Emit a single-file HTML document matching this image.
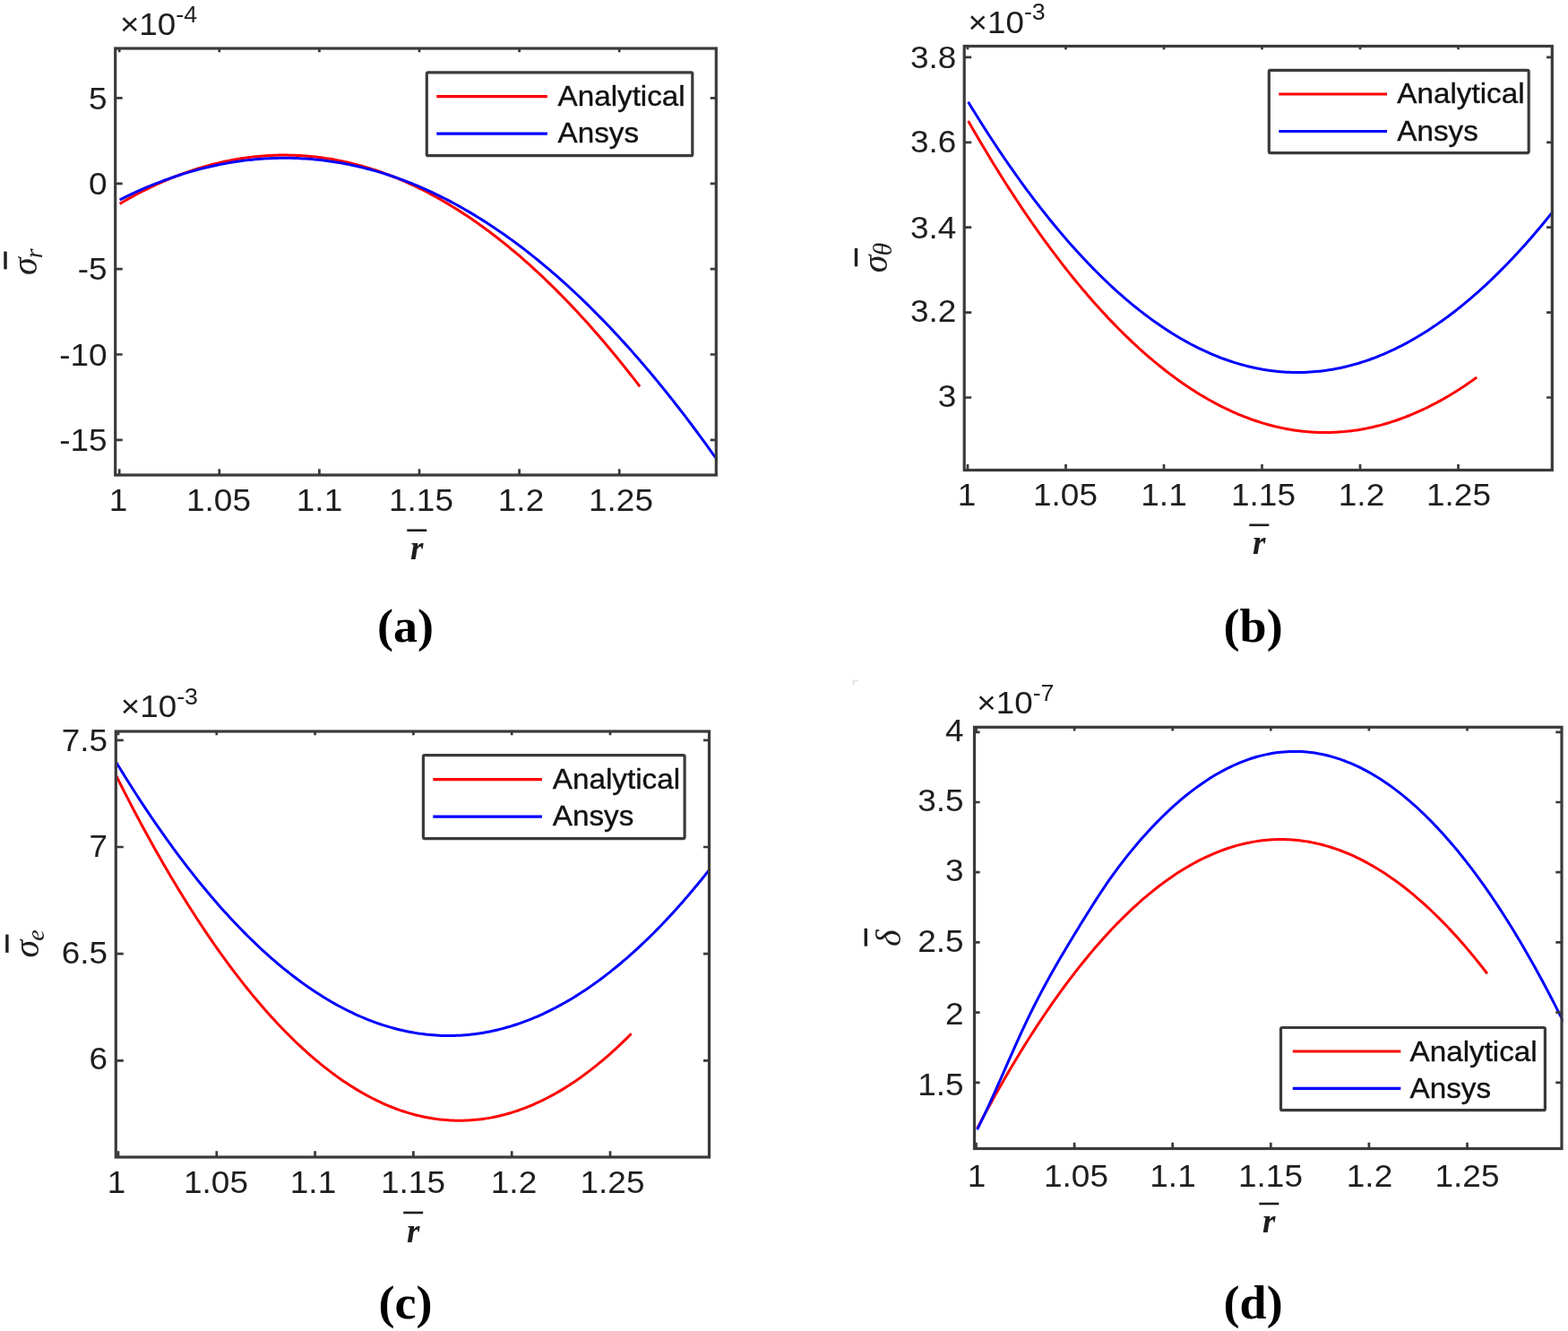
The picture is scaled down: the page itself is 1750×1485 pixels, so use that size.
<!DOCTYPE html>
<html><head><meta charset="utf-8"><title>Figure</title>
<style>html,body{margin:0;padding:0;background:#fff;} svg{display:block;}</style></head>
<body><svg xmlns="http://www.w3.org/2000/svg" width="1750" height="1485" viewBox="0 0 1750 1485" font-family="'Liberation Sans', Arial, sans-serif" font-size="35" fill="#1e1e1e">
<rect width="1750" height="1485" fill="#fff"/>
<g>
<path d="M952.5,764V759.5H957.5" stroke="#e4e4e4" stroke-width="2.2" fill="none"/>
<clipPath id="clipa"><rect x="128.7" y="52" width="672.0999999999999" height="478"/></clipPath>
<path d="M133.60,227.38 L136.52,225.68 L139.43,224.00 L142.35,222.34 L145.27,220.72 L148.19,219.12 L151.10,217.55 L154.02,216.01 L156.94,214.49 L159.85,213.00 L162.77,211.54 L165.69,210.10 L168.61,208.69 L171.52,207.31 L174.44,205.96 L177.36,204.63 L180.27,203.33 L183.19,202.06 L186.11,200.81 L189.02,199.59 L191.94,198.40 L194.86,197.24 L197.78,196.10 L200.69,194.99 L203.61,193.91 L206.53,192.86 L209.44,191.83 L212.36,190.83 L215.28,189.86 L218.20,188.91 L221.11,188.00 L224.03,187.10 L226.95,186.24 L229.86,185.41 L232.78,184.60 L235.70,183.82 L238.62,183.06 L241.53,182.33 L244.45,181.64 L247.37,180.96 L250.28,180.32 L253.20,179.70 L256.12,179.11 L259.03,178.55 L261.95,178.01 L264.87,177.51 L267.79,177.03 L270.70,176.57 L273.62,176.15 L276.54,175.75 L279.45,175.38 L282.37,175.04 L285.29,174.72 L288.21,174.44 L291.12,174.17 L294.04,173.94 L296.96,173.74 L299.87,173.56 L302.79,173.41 L305.71,173.29 L308.63,173.19 L311.54,173.12 L314.46,173.08 L317.38,173.07 L320.29,173.08 L323.21,173.13 L326.13,173.20 L329.04,173.29 L331.96,173.42 L334.88,173.57 L337.80,173.75 L340.71,173.96 L343.63,174.20 L346.55,174.46 L349.46,174.75 L352.38,175.07 L355.30,175.41 L358.22,175.79 L361.13,176.19 L364.05,176.62 L366.97,177.08 L369.88,177.56 L372.80,178.07 L375.72,178.61 L378.64,179.18 L381.55,179.78 L384.47,180.40 L387.39,181.05 L390.30,181.73 L393.22,182.44 L396.14,183.17 L399.05,183.93 L401.97,184.72 L404.89,185.54 L407.81,186.38 L410.72,187.26 L413.64,188.16 L416.56,189.09 L419.47,190.04 L422.39,191.03 L425.31,192.04 L428.23,193.08 L431.14,194.15 L434.06,195.24 L436.98,196.37 L439.89,197.52 L442.81,198.70 L445.73,199.90 L448.65,201.14 L451.56,202.40 L454.48,203.69 L457.40,205.01 L460.31,206.36 L463.23,207.73 L466.15,209.13 L469.06,210.56 L471.98,212.02 L474.90,213.51 L477.82,215.02 L480.73,216.57 L483.65,218.14 L486.57,219.73 L489.48,221.36 L492.40,223.02 L495.32,224.70 L498.24,226.41 L501.15,228.15 L504.07,229.91 L506.99,231.71 L509.90,233.53 L512.82,235.38 L515.74,237.26 L518.66,239.17 L521.57,241.10 L524.49,243.06 L527.41,245.05 L530.32,247.07 L533.24,249.12 L536.16,251.20 L539.07,253.30 L541.99,255.43 L544.91,257.59 L547.83,259.78 L550.74,261.99 L553.66,264.24 L556.58,266.51 L559.49,268.81 L562.41,271.14 L565.33,273.50 L568.25,275.88 L571.16,278.30 L574.08,280.74 L577.00,283.21 L579.91,285.70 L582.83,288.23 L585.75,290.78 L588.67,293.37 L591.58,295.98 L594.50,298.62 L597.42,301.29 L600.33,303.98 L603.25,306.70 L606.17,309.46 L609.08,312.24 L612.00,315.05 L614.92,317.88 L617.84,320.75 L620.75,323.64 L623.67,326.57 L626.59,329.52 L629.50,332.50 L632.42,335.50 L635.34,338.54 L638.26,341.60 L641.17,344.70 L644.09,347.82 L647.01,350.97 L649.92,354.14 L652.84,357.35 L655.76,360.58 L658.68,363.85 L661.59,367.14 L664.51,370.46 L667.43,373.81 L670.34,377.18 L673.26,380.59 L676.18,384.02 L679.09,387.48 L682.01,390.98 L684.93,394.49 L687.85,398.04 L690.76,401.62 L693.68,405.22 L696.60,408.86 L699.51,412.52 L702.43,416.21 L705.35,419.93 L708.27,423.68 L711.18,427.45 L714.10,431.26" fill="none" stroke="#ff0000" stroke-width="3" stroke-linejoin="round" stroke-linecap="butt" clip-path="url(#clipa)"/>
<path d="M133.60,222.98 L136.95,221.31 L140.31,219.66 L143.66,218.05 L147.02,216.46 L150.37,214.91 L153.72,213.38 L157.08,211.89 L160.43,210.42 L163.78,208.99 L167.14,207.59 L170.49,206.22 L173.85,204.87 L177.20,203.56 L180.55,202.28 L183.91,201.03 L187.26,199.81 L190.61,198.62 L193.97,197.46 L197.32,196.33 L200.68,195.24 L204.03,194.17 L207.38,193.13 L210.74,192.13 L214.09,191.15 L217.44,190.21 L220.80,189.29 L224.15,188.41 L227.51,187.56 L230.86,186.74 L234.21,185.95 L237.57,185.19 L240.92,184.46 L244.27,183.76 L247.63,183.10 L250.98,182.46 L254.34,181.86 L257.69,181.28 L261.04,180.74 L264.40,180.23 L267.75,179.75 L271.10,179.30 L274.46,178.88 L277.81,178.50 L281.17,178.14 L284.52,177.82 L287.87,177.52 L291.23,177.26 L294.58,177.03 L297.93,176.83 L301.29,176.66 L304.64,176.52 L308.00,176.42 L311.35,176.34 L314.70,176.30 L318.06,176.29 L321.41,176.31 L324.76,176.36 L328.12,176.44 L331.47,176.56 L334.83,176.70 L338.18,176.88 L341.53,177.09 L344.89,177.33 L348.24,177.60 L351.59,177.91 L354.95,178.24 L358.30,178.61 L361.66,179.01 L365.01,179.44 L368.36,179.90 L371.72,180.40 L375.07,180.92 L378.43,181.48 L381.78,182.07 L385.13,182.69 L388.49,183.35 L391.84,184.03 L395.19,184.75 L398.55,185.50 L401.90,186.28 L405.26,187.09 L408.61,187.94 L411.96,188.82 L415.32,189.73 L418.67,190.67 L422.02,191.64 L425.38,192.65 L428.73,193.68 L432.09,194.75 L435.44,195.86 L438.79,196.99 L442.15,198.16 L445.50,199.36 L448.85,200.59 L452.21,201.85 L455.56,203.15 L458.92,204.48 L462.27,205.84 L465.62,207.23 L468.98,208.65 L472.33,210.11 L475.68,211.60 L479.04,213.13 L482.39,214.68 L485.75,216.27 L489.10,217.89 L492.45,219.54 L495.81,221.23 L499.16,222.95 L502.51,224.70 L505.87,226.48 L509.22,228.30 L512.58,230.15 L515.93,232.03 L519.28,233.94 L522.64,235.89 L525.99,237.87 L529.34,239.88 L532.70,241.93 L536.05,244.01 L539.41,246.12 L542.76,248.26 L546.11,250.44 L549.47,252.65 L552.82,254.89 L556.17,257.17 L559.53,259.48 L562.88,261.82 L566.24,264.20 L569.59,266.61 L572.94,269.05 L576.30,271.52 L579.65,274.03 L583.01,276.57 L586.36,279.15 L589.71,281.75 L593.07,284.39 L596.42,287.07 L599.77,289.78 L603.13,292.52 L606.48,295.29 L609.84,298.10 L613.19,300.94 L616.54,303.81 L619.90,306.72 L623.25,309.66 L626.60,312.64 L629.96,315.65 L633.31,318.69 L636.67,321.76 L640.02,324.87 L643.37,328.01 L646.73,331.19 L650.08,334.40 L653.43,337.64 L656.79,340.92 L660.14,344.23 L663.50,347.57 L666.85,350.95 L670.20,354.36 L673.56,357.81 L676.91,361.29 L680.26,364.80 L683.62,368.35 L686.97,371.93 L690.33,375.54 L693.68,379.19 L697.03,382.88 L700.39,386.59 L703.74,390.34 L707.09,394.13 L710.45,397.95 L713.80,401.80 L717.16,405.69 L720.51,409.61 L723.86,413.56 L727.22,417.55 L730.57,421.58 L733.92,425.63 L737.28,429.73 L740.63,433.85 L743.99,438.01 L747.34,442.21 L750.69,446.44 L754.05,450.70 L757.40,455.00 L760.75,459.33 L764.11,463.69 L767.46,468.10 L770.82,472.53 L774.17,477.00 L777.52,481.50 L780.88,486.04 L784.23,490.62 L787.58,495.22 L790.94,499.87 L794.29,504.54 L797.65,509.25 L801.00,514.00" fill="none" stroke="#0000ff" stroke-width="3" stroke-linejoin="round" stroke-linecap="butt" clip-path="url(#clipa)"/>
<path d="M133.20,530V523.3M133.20,54V58.3M244.80,530V523.3M244.80,54V58.3M356.40,530V523.3M356.40,54V58.3M468.00,530V523.3M468.00,54V58.3M579.60,530V523.3M579.60,54V58.3M691.20,530V523.3M691.20,54V58.3M128.7,109.45H136.7M799.3,109.45H792.6999999999999M128.7,204.80H136.7M799.3,204.80H792.6999999999999M128.7,300.15H136.7M799.3,300.15H792.6999999999999M128.7,395.50H136.7M799.3,395.50H792.6999999999999M128.7,490.85H136.7M799.3,490.85H792.6999999999999" stroke="#3a3a3a" stroke-width="2.72" fill="none"/>
<rect x="128.7" y="54" width="670.5999999999999" height="476" fill="none" stroke="#3a3a3a" stroke-width="3.2"/>
<text transform="translate(132.00,569.50) scale(1.055,1)" text-anchor="middle">1</text>
<text transform="translate(244.00,569.50) scale(1.055,1)" text-anchor="middle">1.05</text>
<text transform="translate(356.50,569.50) scale(1.055,1)" text-anchor="middle">1.1</text>
<text transform="translate(470.00,569.50) scale(1.055,1)" text-anchor="middle">1.15</text>
<text transform="translate(581.50,569.50) scale(1.055,1)" text-anchor="middle">1.2</text>
<text transform="translate(693.00,569.50) scale(1.055,1)" text-anchor="middle">1.25</text>
<text transform="translate(119.50,121.60) scale(1.055,1)" text-anchor="end">5</text>
<text transform="translate(119.50,216.95) scale(1.055,1)" text-anchor="end">0</text>
<text transform="translate(119.50,312.29) scale(1.055,1)" text-anchor="end">-5</text>
<text transform="translate(119.50,407.64) scale(1.055,1)" text-anchor="end">-10</text>
<text transform="translate(119.50,503.00) scale(1.055,1)" text-anchor="end">-15</text>
<text transform="translate(133.90,39.20) scale(1.05,1)">×10<tspan dy="-14.4" font-size="25.5">-4</tspan></text>
<rect x="476.3" y="80.8" width="296.49999999999994" height="92.89999999999999" fill="#fff" stroke="#3a3a3a" stroke-width="3.2" rx="1.5"/>
<path d="M487.3,107.7H610.9" stroke="#ff0000" stroke-width="3.2"/>
<path d="M487.3,149.2H610.9" stroke="#0000ff" stroke-width="3.2"/>
<text transform="translate(622.50,118.10) scale(1.09,1)" font-size="30.5" fill="#111" stroke="#111" stroke-width="0.35">Analytical</text>
<text transform="translate(622.50,158.60) scale(1.09,1)" font-size="30.5" fill="#111" stroke="#111" stroke-width="0.35">Ansys</text>
<path d="M454.25,591.7H476.25" stroke="#1e1e1e" stroke-width="2.6"/>
<text x="465.25" y="623.5" text-anchor="middle" font-family="'Liberation Serif', 'Times New Roman', serif" font-style="italic" font-weight="bold" font-size="37">r</text>
<path d="M6,280.6V300.4" stroke="#1e1e1e" stroke-width="3.4"/><g transform="translate(40.5,307) rotate(-90)"><text x="0" y="0" font-family="'Liberation Serif', 'Times New Roman', serif" font-style="italic" font-size="40">σ<tspan dx="-1" dy="6" font-size="28">r</tspan></text></g>
<text transform="translate(452.45,716.00) scale(1.02,1)" text-anchor="middle" font-family="'Liberation Serif', 'Times New Roman', serif" font-weight="bold" font-size="53" fill="#000">(a)</text>
<clipPath id="clipb"><rect x="1076.2" y="49.5" width="657.5999999999999" height="475.0"/></clipPath>
<path d="M1080.60,134.93 L1083.45,139.92 L1086.30,144.88 L1089.16,149.79 L1092.01,154.67 L1094.86,159.52 L1097.71,164.33 L1100.57,169.10 L1103.42,173.83 L1106.27,178.53 L1109.12,183.19 L1111.97,187.82 L1114.83,192.41 L1117.68,196.96 L1120.53,201.48 L1123.38,205.96 L1126.24,210.40 L1129.09,214.81 L1131.94,219.18 L1134.79,223.51 L1137.65,227.81 L1140.50,232.07 L1143.35,236.30 L1146.20,240.49 L1149.05,244.64 L1151.91,248.76 L1154.76,252.84 L1157.61,256.88 L1160.46,260.89 L1163.32,264.86 L1166.17,268.79 L1169.02,272.69 L1171.87,276.56 L1174.72,280.38 L1177.58,284.17 L1180.43,287.93 L1183.28,291.64 L1186.13,295.33 L1188.99,298.97 L1191.84,302.58 L1194.69,306.15 L1197.54,309.69 L1200.39,313.19 L1203.25,316.66 L1206.10,320.09 L1208.95,323.48 L1211.80,326.83 L1214.66,330.15 L1217.51,333.44 L1220.36,336.69 L1223.21,339.90 L1226.07,343.07 L1228.92,346.21 L1231.77,349.32 L1234.62,352.39 L1237.47,355.42 L1240.33,358.41 L1243.18,361.37 L1246.03,364.30 L1248.88,367.19 L1251.74,370.04 L1254.59,372.86 L1257.44,375.64 L1260.29,378.38 L1263.14,381.09 L1266.00,383.76 L1268.85,386.40 L1271.70,389.00 L1274.55,391.56 L1277.41,394.09 L1280.26,396.58 L1283.11,399.04 L1285.96,401.46 L1288.82,403.85 L1291.67,406.20 L1294.52,408.51 L1297.37,410.79 L1300.22,413.03 L1303.08,415.24 L1305.93,417.41 L1308.78,419.54 L1311.63,421.64 L1314.49,423.71 L1317.34,425.73 L1320.19,427.73 L1323.04,429.68 L1325.89,431.60 L1328.75,433.49 L1331.60,435.34 L1334.45,437.15 L1337.30,438.93 L1340.16,440.67 L1343.01,442.38 L1345.86,444.05 L1348.71,445.68 L1351.56,447.28 L1354.42,448.85 L1357.27,450.38 L1360.12,451.87 L1362.97,453.33 L1365.83,454.75 L1368.68,456.13 L1371.53,457.48 L1374.38,458.80 L1377.24,460.08 L1380.09,461.32 L1382.94,462.53 L1385.79,463.70 L1388.64,464.84 L1391.50,465.94 L1394.35,467.01 L1397.20,468.04 L1400.05,469.04 L1402.91,470.00 L1405.76,470.92 L1408.61,471.81 L1411.46,472.67 L1414.31,473.48 L1417.17,474.27 L1420.02,475.01 L1422.87,475.73 L1425.72,476.40 L1428.58,477.05 L1431.43,477.65 L1434.28,478.22 L1437.13,478.76 L1439.98,479.26 L1442.84,479.72 L1445.69,480.15 L1448.54,480.55 L1451.39,480.91 L1454.25,481.23 L1457.10,481.52 L1459.95,481.77 L1462.80,481.99 L1465.66,482.17 L1468.51,482.32 L1471.36,482.43 L1474.21,482.51 L1477.06,482.55 L1479.92,482.56 L1482.77,482.53 L1485.62,482.47 L1488.47,482.37 L1491.33,482.24 L1494.18,482.07 L1497.03,481.86 L1499.88,481.62 L1502.73,481.35 L1505.59,481.04 L1508.44,480.70 L1511.29,480.32 L1514.14,479.90 L1517.00,479.45 L1519.85,478.97 L1522.70,478.45 L1525.55,477.89 L1528.41,477.30 L1531.26,476.68 L1534.11,476.02 L1536.96,475.32 L1539.81,474.60 L1542.67,473.83 L1545.52,473.03 L1548.37,472.20 L1551.22,471.33 L1554.08,470.42 L1556.93,469.48 L1559.78,468.51 L1562.63,467.50 L1565.48,466.46 L1568.34,465.38 L1571.19,464.26 L1574.04,463.11 L1576.89,461.93 L1579.75,460.71 L1582.60,459.46 L1585.45,458.17 L1588.30,456.85 L1591.15,455.49 L1594.01,454.10 L1596.86,452.67 L1599.71,451.21 L1602.56,449.71 L1605.42,448.18 L1608.27,446.61 L1611.12,445.01 L1613.97,443.38 L1616.83,441.71 L1619.68,440.00 L1622.53,438.26 L1625.38,436.49 L1628.23,434.68 L1631.09,432.84 L1633.94,430.96 L1636.79,429.04 L1639.64,427.10 L1642.50,425.11 L1645.35,423.10 L1648.20,421.05" fill="none" stroke="#ff0000" stroke-width="3" stroke-linejoin="round" stroke-linecap="butt" clip-path="url(#clipb)"/>
<path d="M1080.60,113.77 L1083.89,119.16 L1087.18,124.50 L1090.47,129.79 L1093.75,135.03 L1097.04,140.23 L1100.33,145.37 L1103.62,150.47 L1106.91,155.51 L1110.20,160.51 L1113.48,165.46 L1116.77,170.36 L1120.06,175.22 L1123.35,180.02 L1126.64,184.78 L1129.93,189.48 L1133.22,194.14 L1136.50,198.75 L1139.79,203.31 L1143.08,207.82 L1146.37,212.28 L1149.66,216.70 L1152.95,221.06 L1156.23,225.38 L1159.52,229.65 L1162.81,233.87 L1166.10,238.04 L1169.39,242.16 L1172.68,246.23 L1175.96,250.26 L1179.25,254.24 L1182.54,258.16 L1185.83,262.04 L1189.12,265.87 L1192.41,269.65 L1195.70,273.39 L1198.98,277.07 L1202.27,280.71 L1205.56,284.30 L1208.85,287.84 L1212.14,291.33 L1215.43,294.77 L1218.71,298.16 L1222.00,301.51 L1225.29,304.80 L1228.58,308.05 L1231.87,311.25 L1235.16,314.40 L1238.45,317.50 L1241.73,320.56 L1245.02,323.56 L1248.31,326.52 L1251.60,329.43 L1254.89,332.29 L1258.18,335.10 L1261.46,337.86 L1264.75,340.58 L1268.04,343.24 L1271.33,345.86 L1274.62,348.43 L1277.91,350.95 L1281.19,353.42 L1284.48,355.85 L1287.77,358.22 L1291.06,360.55 L1294.35,362.83 L1297.64,365.06 L1300.93,367.24 L1304.21,369.38 L1307.50,371.46 L1310.79,373.50 L1314.08,375.49 L1317.37,377.43 L1320.66,379.32 L1323.94,381.16 L1327.23,382.96 L1330.52,384.71 L1333.81,386.41 L1337.10,388.06 L1340.39,389.66 L1343.68,391.21 L1346.96,392.72 L1350.25,394.18 L1353.54,395.59 L1356.83,396.95 L1360.12,398.26 L1363.41,399.53 L1366.69,400.74 L1369.98,401.91 L1373.27,403.03 L1376.56,404.11 L1379.85,405.13 L1383.14,406.11 L1386.43,407.03 L1389.71,407.91 L1393.00,408.74 L1396.29,409.53 L1399.58,410.26 L1402.87,410.95 L1406.16,411.59 L1409.44,412.18 L1412.73,412.72 L1416.02,413.22 L1419.31,413.66 L1422.60,414.06 L1425.89,414.41 L1429.17,414.71 L1432.46,414.97 L1435.75,415.17 L1439.04,415.33 L1442.33,415.44 L1445.62,415.50 L1448.91,415.52 L1452.19,415.48 L1455.48,415.40 L1458.77,415.27 L1462.06,415.09 L1465.35,414.87 L1468.64,414.59 L1471.92,414.27 L1475.21,413.90 L1478.50,413.48 L1481.79,413.02 L1485.08,412.50 L1488.37,411.94 L1491.66,411.33 L1494.94,410.67 L1498.23,409.97 L1501.52,409.21 L1504.81,408.41 L1508.10,407.56 L1511.39,406.66 L1514.67,405.72 L1517.96,404.73 L1521.25,403.69 L1524.54,402.60 L1527.83,401.46 L1531.12,400.28 L1534.41,399.04 L1537.69,397.76 L1540.98,396.44 L1544.27,395.06 L1547.56,393.64 L1550.85,392.16 L1554.14,390.65 L1557.42,389.08 L1560.71,387.46 L1564.00,385.80 L1567.29,384.09 L1570.58,382.33 L1573.87,380.53 L1577.15,378.67 L1580.44,376.77 L1583.73,374.82 L1587.02,372.83 L1590.31,370.78 L1593.60,368.69 L1596.89,366.55 L1600.17,364.36 L1603.46,362.13 L1606.75,359.84 L1610.04,357.51 L1613.33,355.14 L1616.62,352.71 L1619.90,350.24 L1623.19,347.71 L1626.48,345.15 L1629.77,342.53 L1633.06,339.87 L1636.35,337.15 L1639.64,334.39 L1642.92,331.59 L1646.21,328.73 L1649.50,325.83 L1652.79,322.88 L1656.08,319.88 L1659.37,316.84 L1662.65,313.75 L1665.94,310.61 L1669.23,307.42 L1672.52,304.18 L1675.81,300.90 L1679.10,297.57 L1682.38,294.19 L1685.67,290.77 L1688.96,287.30 L1692.25,283.78 L1695.54,280.21 L1698.83,276.59 L1702.12,272.93 L1705.40,269.22 L1708.69,265.46 L1711.98,261.66 L1715.27,257.81 L1718.56,253.91 L1721.85,249.96 L1725.13,245.97 L1728.42,241.92 L1731.71,237.83 L1735.00,233.70" fill="none" stroke="#0000ff" stroke-width="3" stroke-linejoin="round" stroke-linecap="butt" clip-path="url(#clipb)"/>
<path d="M1080.00,524.5V517.9M1080.00,51.5V55.3M1189.50,524.5V517.9M1189.50,51.5V55.3M1299.00,524.5V517.9M1299.00,51.5V55.3M1408.50,524.5V517.9M1408.50,51.5V55.3M1518.00,524.5V517.9M1518.00,51.5V55.3M1627.50,524.5V517.9M1627.50,51.5V55.3M1076.2,63.90H1084.2M1732.3,63.90H1726.1M1076.2,158.80H1084.2M1732.3,158.80H1726.1M1076.2,253.70H1084.2M1732.3,253.70H1726.1M1076.2,348.60H1084.2M1732.3,348.60H1726.1M1076.2,443.50H1084.2M1732.3,443.50H1726.1" stroke="#3a3a3a" stroke-width="2.72" fill="none"/>
<rect x="1076.2" y="51.5" width="656.0999999999999" height="473.0" fill="none" stroke="#3a3a3a" stroke-width="3.2"/>
<text transform="translate(1079.00,564.00) scale(1.055,1)" text-anchor="middle">1</text>
<text transform="translate(1189.00,564.00) scale(1.055,1)" text-anchor="middle">1.05</text>
<text transform="translate(1299.00,564.00) scale(1.055,1)" text-anchor="middle">1.1</text>
<text transform="translate(1410.00,564.00) scale(1.055,1)" text-anchor="middle">1.15</text>
<text transform="translate(1519.50,564.00) scale(1.055,1)" text-anchor="middle">1.2</text>
<text transform="translate(1628.00,564.00) scale(1.055,1)" text-anchor="middle">1.25</text>
<text transform="translate(1067.30,75.55) scale(1.055,1)" text-anchor="end">3.8</text>
<text transform="translate(1067.30,170.35) scale(1.055,1)" text-anchor="end">3.6</text>
<text transform="translate(1067.30,265.55) scale(1.055,1)" text-anchor="end">3.4</text>
<text transform="translate(1067.30,359.35) scale(1.055,1)" text-anchor="end">3.2</text>
<text transform="translate(1067.30,454.05) scale(1.055,1)" text-anchor="end">3</text>
<text transform="translate(1080.60,36.70) scale(1.05,1)">×10<tspan dy="-14.4" font-size="25.5">-3</tspan></text>
<rect x="1416.3" y="78.4" width="289.9000000000001" height="92.19999999999999" fill="#fff" stroke="#3a3a3a" stroke-width="3.2" rx="1.5"/>
<path d="M1427.3,105H1548" stroke="#ff0000" stroke-width="3.2"/>
<path d="M1427.3,146.5H1548" stroke="#0000ff" stroke-width="3.2"/>
<text transform="translate(1559.30,115.00) scale(1.09,1)" font-size="30.5" fill="#111" stroke="#111" stroke-width="0.35">Analytical</text>
<text transform="translate(1559.30,156.50) scale(1.09,1)" font-size="30.5" fill="#111" stroke="#111" stroke-width="0.35">Ansys</text>
<path d="M1394.3,585.8H1416.3" stroke="#1e1e1e" stroke-width="2.6"/>
<text x="1405.3" y="617.5" text-anchor="middle" font-family="'Liberation Serif', 'Times New Roman', serif" font-style="italic" font-weight="bold" font-size="37">r</text>
<path d="M955.5,277V297.3" stroke="#1e1e1e" stroke-width="3.4"/><g transform="translate(989.5,304.3) rotate(-90)"><text x="0" y="0" font-family="'Liberation Serif', 'Times New Roman', serif" font-style="italic" font-size="40">σ<tspan dx="-1" dy="5.5" font-size="30">θ</tspan></text></g>
<text transform="translate(1398.65,716.00) scale(1.02,1)" text-anchor="middle" font-family="'Liberation Serif', 'Times New Roman', serif" font-weight="bold" font-size="53" fill="#000">(b)</text>
<clipPath id="clipc"><rect x="129.3" y="814" width="663.7" height="477"/></clipPath>
<path d="M130.00,866.04 L132.89,871.80 L135.77,877.52 L138.66,883.20 L141.55,888.83 L144.44,894.42 L147.32,899.96 L150.21,905.47 L153.10,910.93 L155.99,916.34 L158.87,921.71 L161.76,927.04 L164.65,932.33 L167.54,937.57 L170.42,942.77 L173.31,947.92 L176.20,953.04 L179.09,958.10 L181.97,963.13 L184.86,968.11 L187.75,973.05 L190.64,977.94 L193.52,982.79 L196.41,987.60 L199.30,992.37 L202.19,997.09 L205.07,1001.76 L207.96,1006.40 L210.85,1010.99 L213.74,1015.53 L216.62,1020.04 L219.51,1024.50 L222.40,1028.91 L225.29,1033.29 L228.17,1037.61 L231.06,1041.90 L233.95,1046.14 L236.84,1050.34 L239.72,1054.50 L242.61,1058.61 L245.50,1062.68 L248.38,1066.70 L251.27,1070.68 L254.16,1074.62 L257.05,1078.51 L259.93,1082.36 L262.82,1086.17 L265.71,1089.93 L268.60,1093.65 L271.48,1097.33 L274.37,1100.96 L277.26,1104.55 L280.15,1108.10 L283.03,1111.60 L285.92,1115.06 L288.81,1118.47 L291.70,1121.84 L294.58,1125.17 L297.47,1128.45 L300.36,1131.69 L303.25,1134.89 L306.13,1138.04 L309.02,1141.15 L311.91,1144.22 L314.80,1147.24 L317.68,1150.22 L320.57,1153.15 L323.46,1156.05 L326.35,1158.89 L329.23,1161.70 L332.12,1164.46 L335.01,1167.17 L337.90,1169.85 L340.78,1172.48 L343.67,1175.06 L346.56,1177.61 L349.45,1180.10 L352.33,1182.56 L355.22,1184.97 L358.11,1187.34 L360.99,1189.66 L363.88,1191.94 L366.77,1194.18 L369.66,1196.37 L372.54,1198.52 L375.43,1200.63 L378.32,1202.69 L381.21,1204.71 L384.09,1206.68 L386.98,1208.61 L389.87,1210.50 L392.76,1212.34 L395.64,1214.14 L398.53,1215.90 L401.42,1217.61 L404.31,1219.28 L407.19,1220.90 L410.08,1222.48 L412.97,1224.02 L415.86,1225.51 L418.74,1226.96 L421.63,1228.37 L424.52,1229.73 L427.41,1231.05 L430.29,1232.32 L433.18,1233.55 L436.07,1234.74 L438.96,1235.88 L441.84,1236.98 L444.73,1238.04 L447.62,1239.05 L450.51,1240.02 L453.39,1240.94 L456.28,1241.82 L459.17,1242.66 L462.06,1243.45 L464.94,1244.20 L467.83,1244.91 L470.72,1245.57 L473.61,1246.19 L476.49,1246.76 L479.38,1247.29 L482.27,1247.78 L485.15,1248.22 L488.04,1248.62 L490.93,1248.97 L493.82,1249.28 L496.70,1249.55 L499.59,1249.77 L502.48,1249.95 L505.37,1250.09 L508.25,1250.18 L511.14,1250.23 L514.03,1250.23 L516.92,1250.19 L519.80,1250.11 L522.69,1249.98 L525.58,1249.81 L528.47,1249.59 L531.35,1249.33 L534.24,1249.03 L537.13,1248.68 L540.02,1248.29 L542.90,1247.86 L545.79,1247.38 L548.68,1246.86 L551.57,1246.29 L554.45,1245.68 L557.34,1245.02 L560.23,1244.32 L563.12,1243.58 L566.00,1242.80 L568.89,1241.97 L571.78,1241.09 L574.67,1240.17 L577.55,1239.21 L580.44,1238.20 L583.33,1237.15 L586.22,1236.06 L589.10,1234.92 L591.99,1233.74 L594.88,1232.51 L597.76,1231.24 L600.65,1229.93 L603.54,1228.57 L606.43,1227.17 L609.31,1225.72 L612.20,1224.23 L615.09,1222.70 L617.98,1221.12 L620.86,1219.50 L623.75,1217.83 L626.64,1216.12 L629.53,1214.37 L632.41,1212.57 L635.30,1210.73 L638.19,1208.84 L641.08,1206.91 L643.96,1204.94 L646.85,1202.92 L649.74,1200.86 L652.63,1198.75 L655.51,1196.60 L658.40,1194.41 L661.29,1192.17 L664.18,1189.89 L667.06,1187.56 L669.95,1185.19 L672.84,1182.78 L675.73,1180.32 L678.61,1177.81 L681.50,1175.27 L684.39,1172.68 L687.28,1170.04 L690.16,1167.36 L693.05,1164.64 L695.94,1161.87 L698.83,1159.06 L701.71,1156.20 L704.60,1153.30" fill="none" stroke="#ff0000" stroke-width="3" stroke-linejoin="round" stroke-linecap="butt" clip-path="url(#clipc)"/>
<path d="M130.00,850.98 L133.33,856.45 L136.66,861.86 L139.99,867.23 L143.33,872.54 L146.66,877.81 L149.99,883.02 L153.32,888.19 L156.65,893.31 L159.98,898.37 L163.32,903.39 L166.65,908.36 L169.98,913.27 L173.31,918.14 L176.64,922.96 L179.97,927.73 L183.31,932.45 L186.64,937.12 L189.97,941.73 L193.30,946.30 L196.63,950.82 L199.96,955.30 L203.30,959.72 L206.63,964.09 L209.96,968.41 L213.29,972.68 L216.62,976.90 L219.95,981.08 L223.29,985.20 L226.62,989.27 L229.95,993.30 L233.28,997.27 L236.61,1001.20 L239.94,1005.07 L243.28,1008.90 L246.61,1012.68 L249.94,1016.40 L253.27,1020.08 L256.60,1023.71 L259.93,1027.29 L263.27,1030.82 L266.60,1034.30 L269.93,1037.73 L273.26,1041.11 L276.59,1044.44 L279.92,1047.72 L283.26,1050.95 L286.59,1054.14 L289.92,1057.27 L293.25,1060.36 L296.58,1063.39 L299.91,1066.38 L303.25,1069.31 L306.58,1072.20 L309.91,1075.04 L313.24,1077.83 L316.57,1080.57 L319.90,1083.26 L323.24,1085.90 L326.57,1088.49 L329.90,1091.03 L333.23,1093.52 L336.56,1095.97 L339.89,1098.36 L343.23,1100.70 L346.56,1103.00 L349.89,1105.25 L353.22,1107.44 L356.55,1109.59 L359.88,1111.69 L363.22,1113.74 L366.55,1115.74 L369.88,1117.69 L373.21,1119.59 L376.54,1121.45 L379.87,1123.25 L383.21,1125.00 L386.54,1126.71 L389.87,1128.36 L393.20,1129.97 L396.53,1131.53 L399.86,1133.04 L403.20,1134.50 L406.53,1135.91 L409.86,1137.27 L413.19,1138.58 L416.52,1139.85 L419.85,1141.06 L423.19,1142.23 L426.52,1143.34 L429.85,1144.41 L433.18,1145.43 L436.51,1146.40 L439.84,1147.32 L443.18,1148.19 L446.51,1149.01 L449.84,1149.78 L453.17,1150.51 L456.50,1151.18 L459.83,1151.81 L463.17,1152.39 L466.50,1152.91 L469.83,1153.39 L473.16,1153.82 L476.49,1154.21 L479.82,1154.54 L483.16,1154.82 L486.49,1155.06 L489.82,1155.24 L493.15,1155.38 L496.48,1155.47 L499.81,1155.51 L503.15,1155.50 L506.48,1155.44 L509.81,1155.33 L513.14,1155.18 L516.47,1154.97 L519.80,1154.72 L523.14,1154.42 L526.47,1154.07 L529.80,1153.67 L533.13,1153.22 L536.46,1152.72 L539.79,1152.17 L543.13,1151.58 L546.46,1150.94 L549.79,1150.24 L553.12,1149.50 L556.45,1148.71 L559.78,1147.87 L563.12,1146.99 L566.45,1146.05 L569.78,1145.07 L573.11,1144.03 L576.44,1142.95 L579.77,1141.82 L583.11,1140.64 L586.44,1139.41 L589.77,1138.14 L593.10,1136.81 L596.43,1135.44 L599.76,1134.02 L603.10,1132.55 L606.43,1131.03 L609.76,1129.46 L613.09,1127.84 L616.42,1126.18 L619.75,1124.46 L623.09,1122.70 L626.42,1120.89 L629.75,1119.03 L633.08,1117.13 L636.41,1115.17 L639.74,1113.16 L643.08,1111.11 L646.41,1109.01 L649.74,1106.86 L653.07,1104.66 L656.40,1102.41 L659.73,1100.12 L663.07,1097.77 L666.40,1095.38 L669.73,1092.94 L673.06,1090.45 L676.39,1087.91 L679.72,1085.33 L683.06,1082.69 L686.39,1080.01 L689.72,1077.28 L693.05,1074.50 L696.38,1071.67 L699.71,1068.80 L703.05,1065.87 L706.38,1062.90 L709.71,1059.88 L713.04,1056.81 L716.37,1053.69 L719.70,1050.53 L723.04,1047.31 L726.37,1044.05 L729.70,1040.74 L733.03,1037.38 L736.36,1033.97 L739.69,1030.52 L743.03,1027.01 L746.36,1023.46 L749.69,1019.86 L753.02,1016.21 L756.35,1012.52 L759.68,1008.77 L763.02,1004.98 L766.35,1001.14 L769.68,997.25 L773.01,993.31 L776.34,989.32 L779.67,985.29 L783.01,981.21 L786.34,977.08 L789.67,972.90 L793.00,968.68" fill="none" stroke="#0000ff" stroke-width="3" stroke-linejoin="round" stroke-linecap="butt" clip-path="url(#clipc)"/>
<path d="M132.00,1291V1284.3M132.00,816V820.3M241.80,1291V1284.3M241.80,816V820.3M351.60,1291V1284.3M351.60,816V820.3M461.40,1291V1284.3M461.40,816V820.3M571.20,1291V1284.3M571.20,816V820.3M681.00,1291V1284.3M681.00,816V820.3M129.3,825.80H137.8M791.5,825.80H785.0M129.3,945.00H137.8M791.5,945.00H785.0M129.3,1064.20H137.8M791.5,1064.20H785.0M129.3,1183.40H137.8M791.5,1183.40H785.0" stroke="#3a3a3a" stroke-width="2.72" fill="none"/>
<rect x="129.3" y="816" width="662.2" height="475" fill="none" stroke="#3a3a3a" stroke-width="3.2"/>
<text transform="translate(130.00,1331.00) scale(1.055,1)" text-anchor="middle">1</text>
<text transform="translate(241.00,1331.00) scale(1.055,1)" text-anchor="middle">1.05</text>
<text transform="translate(349.50,1331.00) scale(1.055,1)" text-anchor="middle">1.1</text>
<text transform="translate(461.00,1331.00) scale(1.055,1)" text-anchor="middle">1.15</text>
<text transform="translate(573.50,1331.00) scale(1.055,1)" text-anchor="middle">1.2</text>
<text transform="translate(683.50,1331.00) scale(1.055,1)" text-anchor="middle">1.25</text>
<text transform="translate(120.00,837.85) scale(1.055,1)" text-anchor="end">7.5</text>
<text transform="translate(120.00,956.25) scale(1.055,1)" text-anchor="end">7</text>
<text transform="translate(120.00,1075.25) scale(1.055,1)" text-anchor="end">6.5</text>
<text transform="translate(120.00,1193.35) scale(1.055,1)" text-anchor="end">6</text>
<text transform="translate(134.80,800.00) scale(1.05,1)">×10<tspan dy="-14.4" font-size="25.5">-3</tspan></text>
<rect x="472.4" y="842.7" width="291.70000000000005" height="92.89999999999998" fill="#fff" stroke="#3a3a3a" stroke-width="3.2" rx="1.5"/>
<path d="M483.3,869.6H604.9" stroke="#ff0000" stroke-width="3.2"/>
<path d="M483.3,911.1H604.9" stroke="#0000ff" stroke-width="3.2"/>
<text transform="translate(616.80,880.00) scale(1.09,1)" font-size="30.5" fill="#111" stroke="#111" stroke-width="0.35">Analytical</text>
<text transform="translate(616.80,921.10) scale(1.09,1)" font-size="30.5" fill="#111" stroke="#111" stroke-width="0.35">Ansys</text>
<path d="M450.2,1353H472.2" stroke="#1e1e1e" stroke-width="2.6"/>
<text x="461.2" y="1385.5" text-anchor="middle" font-family="'Liberation Serif', 'Times New Roman', serif" font-style="italic" font-weight="bold" font-size="37">r</text>
<path d="M7.9,1042.6V1062.9" stroke="#1e1e1e" stroke-width="3.4"/><g transform="translate(42.5,1068.6) rotate(-90)"><text x="0" y="0" font-family="'Liberation Serif', 'Times New Roman', serif" font-style="italic" font-size="40">σ<tspan dx="-1" dy="6" font-size="28">e</tspan></text></g>
<text transform="translate(452.45,1471.00) scale(1.02,1)" text-anchor="middle" font-family="'Liberation Serif', 'Times New Roman', serif" font-weight="bold" font-size="53" fill="#000">(c)</text>
<clipPath id="clipd"><rect x="1087.5" y="809.3" width="657.0" height="472.20000000000005"/></clipPath>
<path d="M1090.60,1258.99 L1093.46,1253.59 L1096.32,1248.23 L1099.18,1242.91 L1102.04,1237.64 L1104.90,1232.42 L1107.76,1227.24 L1110.62,1222.11 L1113.48,1217.02 L1116.34,1211.98 L1119.20,1206.98 L1122.06,1202.03 L1124.92,1197.13 L1127.78,1192.27 L1130.64,1187.46 L1133.50,1182.69 L1136.36,1177.97 L1139.23,1173.29 L1142.09,1168.66 L1144.95,1164.07 L1147.81,1159.53 L1150.67,1155.04 L1153.53,1150.59 L1156.39,1146.18 L1159.25,1141.83 L1162.11,1137.51 L1164.97,1133.25 L1167.83,1129.03 L1170.69,1124.85 L1173.55,1120.72 L1176.41,1116.64 L1179.27,1112.60 L1182.13,1108.61 L1184.99,1104.66 L1187.85,1100.76 L1190.71,1096.90 L1193.57,1093.09 L1196.43,1089.33 L1199.29,1085.61 L1202.15,1081.93 L1205.01,1078.31 L1207.87,1074.73 L1210.73,1071.19 L1213.59,1067.70 L1216.45,1064.25 L1219.31,1060.86 L1222.17,1057.50 L1225.03,1054.19 L1227.89,1050.93 L1230.75,1047.72 L1233.62,1044.55 L1236.48,1041.42 L1239.34,1038.34 L1242.20,1035.31 L1245.06,1032.32 L1247.92,1029.38 L1250.78,1026.49 L1253.64,1023.64 L1256.50,1020.83 L1259.36,1018.07 L1262.22,1015.36 L1265.08,1012.69 L1267.94,1010.07 L1270.80,1007.50 L1273.66,1004.97 L1276.52,1002.48 L1279.38,1000.05 L1282.24,997.65 L1285.10,995.31 L1287.96,993.01 L1290.82,990.75 L1293.68,988.55 L1296.54,986.38 L1299.40,984.27 L1302.26,982.20 L1305.12,980.17 L1307.98,978.19 L1310.84,976.26 L1313.70,974.37 L1316.56,972.53 L1319.42,970.73 L1322.28,968.98 L1325.14,967.28 L1328.01,965.62 L1330.87,964.01 L1333.73,962.44 L1336.59,960.92 L1339.45,959.45 L1342.31,958.02 L1345.17,956.64 L1348.03,955.30 L1350.89,954.01 L1353.75,952.77 L1356.61,951.57 L1359.47,950.41 L1362.33,949.31 L1365.19,948.25 L1368.05,947.23 L1370.91,946.26 L1373.77,945.34 L1376.63,944.46 L1379.49,943.63 L1382.35,942.85 L1385.21,942.11 L1388.07,941.42 L1390.93,940.77 L1393.79,940.17 L1396.65,939.61 L1399.51,939.11 L1402.37,938.64 L1405.23,938.23 L1408.09,937.86 L1410.95,937.53 L1413.81,937.25 L1416.67,937.02 L1419.53,936.84 L1422.39,936.70 L1425.26,936.60 L1428.12,936.55 L1430.98,936.55 L1433.84,936.60 L1436.70,936.69 L1439.56,936.82 L1442.42,937.01 L1445.28,937.23 L1448.14,937.51 L1451.00,937.83 L1453.86,938.20 L1456.72,938.61 L1459.58,939.07 L1462.44,939.58 L1465.30,940.13 L1468.16,940.72 L1471.02,941.37 L1473.88,942.06 L1476.74,942.80 L1479.60,943.58 L1482.46,944.41 L1485.32,945.28 L1488.18,946.20 L1491.04,947.17 L1493.90,948.18 L1496.76,949.24 L1499.62,950.35 L1502.48,951.50 L1505.34,952.70 L1508.20,953.95 L1511.06,955.24 L1513.92,956.57 L1516.78,957.96 L1519.65,959.39 L1522.51,960.86 L1525.37,962.38 L1528.23,963.95 L1531.09,965.57 L1533.95,967.23 L1536.81,968.94 L1539.67,970.69 L1542.53,972.49 L1545.39,974.34 L1548.25,976.23 L1551.11,978.17 L1553.97,980.15 L1556.83,982.18 L1559.69,984.26 L1562.55,986.39 L1565.41,988.56 L1568.27,990.77 L1571.13,993.04 L1573.99,995.34 L1576.85,997.70 L1579.71,1000.10 L1582.57,1002.55 L1585.43,1005.05 L1588.29,1007.59 L1591.15,1010.18 L1594.01,1012.81 L1596.87,1015.49 L1599.73,1018.22 L1602.59,1020.99 L1605.45,1023.81 L1608.31,1026.68 L1611.17,1029.59 L1614.04,1032.55 L1616.90,1035.55 L1619.76,1038.60 L1622.62,1041.70 L1625.48,1044.85 L1628.34,1048.04 L1631.20,1051.28 L1634.06,1054.56 L1636.92,1057.89 L1639.78,1061.27 L1642.64,1064.69 L1645.50,1068.16 L1648.36,1071.68 L1651.22,1075.24 L1654.08,1078.85 L1656.94,1082.51 L1659.80,1086.21" fill="none" stroke="#ff0000" stroke-width="3" stroke-linejoin="round" stroke-linecap="butt" clip-path="url(#clipd)"/>
<path d="M1090.60,1260.26 L1093.89,1253.62 L1097.18,1246.81 L1100.47,1239.85 L1103.75,1232.76 L1107.04,1225.56 L1110.33,1218.28 L1113.62,1210.92 L1116.91,1203.51 L1120.20,1196.07 L1123.48,1188.62 L1126.77,1181.18 L1130.06,1173.78 L1133.35,1166.42 L1136.64,1159.14 L1139.93,1151.94 L1143.22,1144.86 L1146.50,1137.91 L1149.79,1131.11 L1153.08,1124.47 L1156.37,1117.97 L1159.66,1111.61 L1162.95,1105.37 L1166.23,1099.26 L1169.52,1093.25 L1172.81,1087.34 L1176.10,1081.53 L1179.39,1075.79 L1182.68,1070.12 L1185.96,1064.51 L1189.25,1058.96 L1192.54,1053.44 L1195.83,1047.98 L1199.12,1042.55 L1202.41,1037.16 L1205.70,1031.81 L1208.98,1026.50 L1212.27,1021.23 L1215.56,1015.99 L1218.85,1010.79 L1222.14,1005.63 L1225.43,1000.52 L1228.71,995.49 L1232.00,990.55 L1235.29,985.71 L1238.58,980.97 L1241.87,976.34 L1245.16,971.81 L1248.45,967.38 L1251.73,963.04 L1255.02,958.80 L1258.31,954.64 L1261.60,950.57 L1264.89,946.58 L1268.18,942.67 L1271.46,938.84 L1274.75,935.08 L1278.04,931.40 L1281.33,927.79 L1284.62,924.24 L1287.91,920.77 L1291.19,917.37 L1294.48,914.04 L1297.77,910.79 L1301.06,907.60 L1304.35,904.48 L1307.64,901.44 L1310.93,898.46 L1314.21,895.56 L1317.50,892.73 L1320.79,889.97 L1324.08,887.28 L1327.37,884.66 L1330.66,882.12 L1333.94,879.64 L1337.23,877.24 L1340.52,874.91 L1343.81,872.65 L1347.10,870.47 L1350.39,868.35 L1353.68,866.31 L1356.96,864.33 L1360.25,862.43 L1363.54,860.61 L1366.83,858.85 L1370.12,857.17 L1373.41,855.55 L1376.69,854.01 L1379.98,852.55 L1383.27,851.15 L1386.56,849.83 L1389.85,848.58 L1393.14,847.40 L1396.43,846.29 L1399.71,845.26 L1403.00,844.29 L1406.29,843.41 L1409.58,842.59 L1412.87,841.85 L1416.16,841.17 L1419.44,840.58 L1422.73,840.05 L1426.02,839.60 L1429.31,839.22 L1432.60,838.91 L1435.89,838.67 L1439.17,838.51 L1442.46,838.42 L1445.75,838.41 L1449.04,838.46 L1452.33,838.59 L1455.62,838.80 L1458.91,839.07 L1462.19,839.42 L1465.48,839.84 L1468.77,840.34 L1472.06,840.90 L1475.35,841.54 L1478.64,842.26 L1481.92,843.04 L1485.21,843.90 L1488.50,844.83 L1491.79,845.83 L1495.08,846.91 L1498.37,848.05 L1501.66,849.27 L1504.94,850.57 L1508.23,851.93 L1511.52,853.37 L1514.81,854.88 L1518.10,856.46 L1521.39,858.12 L1524.67,859.84 L1527.96,861.64 L1531.25,863.51 L1534.54,865.46 L1537.83,867.47 L1541.12,869.56 L1544.41,871.72 L1547.69,873.95 L1550.98,876.25 L1554.27,878.63 L1557.56,881.08 L1560.85,883.60 L1564.14,886.19 L1567.42,888.85 L1570.71,891.59 L1574.00,894.40 L1577.29,897.28 L1580.58,900.23 L1583.87,903.25 L1587.15,906.35 L1590.44,909.51 L1593.73,912.75 L1597.02,916.06 L1600.31,919.44 L1603.60,922.90 L1606.89,926.42 L1610.17,930.02 L1613.46,933.69 L1616.75,937.43 L1620.04,941.24 L1623.33,945.12 L1626.62,949.08 L1629.90,953.11 L1633.19,957.21 L1636.48,961.38 L1639.77,965.63 L1643.06,969.95 L1646.35,974.34 L1649.64,978.81 L1652.92,983.34 L1656.21,987.95 L1659.50,992.63 L1662.79,997.39 L1666.08,1002.22 L1669.37,1007.12 L1672.65,1012.10 L1675.94,1017.15 L1679.23,1022.27 L1682.52,1027.46 L1685.81,1032.73 L1689.10,1038.08 L1692.38,1043.49 L1695.67,1048.98 L1698.96,1054.55 L1702.25,1060.19 L1705.54,1065.90 L1708.83,1071.69 L1712.12,1077.55 L1715.40,1083.49 L1718.69,1089.50 L1721.98,1095.58 L1725.27,1101.74 L1728.56,1107.98 L1731.85,1114.28 L1735.13,1120.67 L1738.42,1127.13 L1741.71,1133.66 L1745.00,1140.27" fill="none" stroke="#0000ff" stroke-width="3" stroke-linejoin="round" stroke-linecap="butt" clip-path="url(#clipd)"/>
<path d="M1089.50,1281.5V1274.8M1089.50,811.3V815.5999999999999M1199.10,1281.5V1274.8M1199.10,811.3V815.5999999999999M1308.70,1281.5V1274.8M1308.70,811.3V815.5999999999999M1418.30,1281.5V1274.8M1418.30,811.3V815.5999999999999M1527.90,1281.5V1274.8M1527.90,811.3V815.5999999999999M1637.50,1281.5V1274.8M1637.50,811.3V815.5999999999999M1087.5,816.80H1093.6M1743,816.80H1736.3M1087.5,895.00H1093.6M1743,895.00H1736.3M1087.5,973.20H1093.6M1743,973.20H1736.3M1087.5,1051.40H1093.6M1743,1051.40H1736.3M1087.5,1129.60H1093.6M1743,1129.60H1736.3M1087.5,1207.80H1093.6M1743,1207.80H1736.3" stroke="#3a3a3a" stroke-width="2.72" fill="none"/>
<rect x="1087.5" y="811.3" width="655.5" height="470.20000000000005" fill="none" stroke="#3a3a3a" stroke-width="3.2"/>
<text transform="translate(1090.00,1323.50) scale(1.055,1)" text-anchor="middle">1</text>
<text transform="translate(1201.00,1323.50) scale(1.055,1)" text-anchor="middle">1.05</text>
<text transform="translate(1309.00,1323.50) scale(1.055,1)" text-anchor="middle">1.1</text>
<text transform="translate(1418.00,1323.50) scale(1.055,1)" text-anchor="middle">1.15</text>
<text transform="translate(1528.50,1323.50) scale(1.055,1)" text-anchor="middle">1.2</text>
<text transform="translate(1637.50,1323.50) scale(1.055,1)" text-anchor="middle">1.25</text>
<text transform="translate(1075.50,827.05) scale(1.055,1)" text-anchor="end">4</text>
<text transform="translate(1075.50,905.15) scale(1.055,1)" text-anchor="end">3.5</text>
<text transform="translate(1075.50,983.25) scale(1.055,1)" text-anchor="end">3</text>
<text transform="translate(1075.50,1062.15) scale(1.055,1)" text-anchor="end">2.5</text>
<text transform="translate(1075.50,1142.85) scale(1.055,1)" text-anchor="end">2</text>
<text transform="translate(1075.50,1221.55) scale(1.055,1)" text-anchor="end">1.5</text>
<text transform="translate(1090.30,796.30) scale(1.05,1)">×10<tspan dy="-14.4" font-size="25.5">-7</tspan></text>
<rect x="1429.5" y="1146.5" width="294.9000000000001" height="92.20000000000005" fill="#fff" stroke="#3a3a3a" stroke-width="3.2" rx="1.5"/>
<path d="M1442.8,1173H1563.3" stroke="#ff0000" stroke-width="3.2"/>
<path d="M1442.8,1214.4H1563.3" stroke="#0000ff" stroke-width="3.2"/>
<text transform="translate(1573.50,1183.50) scale(1.09,1)" font-size="30.5" fill="#111" stroke="#111" stroke-width="0.35">Analytical</text>
<text transform="translate(1573.50,1224.50) scale(1.09,1)" font-size="30.5" fill="#111" stroke="#111" stroke-width="0.35">Ansys</text>
<path d="M1405.3,1343H1427.3" stroke="#1e1e1e" stroke-width="2.6"/>
<text x="1416.3" y="1375" text-anchor="middle" font-family="'Liberation Serif', 'Times New Roman', serif" font-style="italic" font-weight="bold" font-size="37">r</text>
<path d="M966.3,1035.8V1055.7" stroke="#1e1e1e" stroke-width="3.4"/><g transform="translate(1005,1056) rotate(-90)"><text x="0" y="0" font-family="'Liberation Serif', 'Times New Roman', serif" font-style="italic" font-size="40">δ</text></g>
<text transform="translate(1398.65,1471.00) scale(1.02,1)" text-anchor="middle" font-family="'Liberation Serif', 'Times New Roman', serif" font-weight="bold" font-size="53" fill="#000">(d)</text>
</g>
</svg></body></html>
